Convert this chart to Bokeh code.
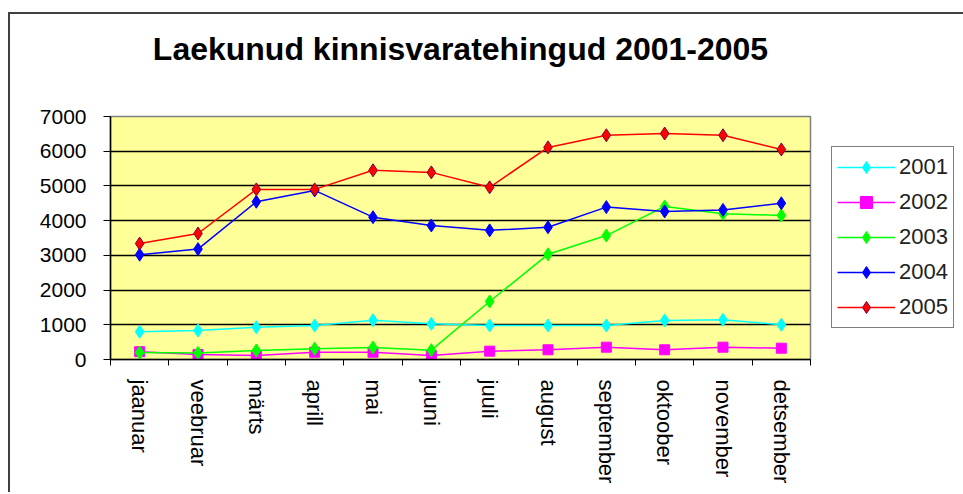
from bokeh.plotting import figure
from bokeh.models import (FactorRange, Range1d, LinearAxis, FixedTicker, Legend,
                          LegendItem)
from bokeh.embed import file_html
from bokeh.resources import INLINE

title_text = "Laekunud kinnisvaratehingud 2001-2005"
months = ["jaanuar", "veebruar", "märts", "aprill", "mai", "juuni", "juuli",
          "august", "september", "oktoober", "november", "detsember"]
years = ["2001", "2002", "2003", "2004", "2005"]
s2001 = [800, 835, 930, 980, 1130, 1030, 980, 980, 980, 1125, 1145, 1000]
s2002 = [225, 145, 115, 210, 210, 115, 240, 280, 355, 280, 355, 325]
s2003 = [200, 190, 260, 310, 345, 270, 1670, 3030, 3570, 4410, 4200, 4150]
s2004 = [3020, 3180, 4545, 4870, 4100, 3860, 3720, 3810, 4390, 4265, 4310, 4500]
s2005 = [3340, 3630, 4900, 4900, 5450, 5390, 4960, 6110, 6460, 6510, 6460, 6050]
y_ticks = [0, 1000, 2000, 3000, 4000, 5000, 6000, 7000]

series = [s2001, s2002, s2003, s2004, s2005]
line_colors = ["#00FFFF", "#FF00FF", "#00FF00", "#0000FF", "#FF0000"]
marker_fill = ["#00FFFF", "#FF00FF", "#00FF00", "#0000FF", "#FF0000"]
marker_line = ["#00FFFF", "#FF00FF", "#00FF00", "#0000FF", "#800040"]
markers = ["diamond", "square", "diamond", "diamond", "diamond"]
sizes = [13, 10, 13, 13, 13]

FONT = "Liberation Sans"

p = figure(frame_width=700, frame_height=243, output_backend="svg", toolbar_location=None,
           x_range=FactorRange(factors=months, range_padding=0),
           y_range=Range1d(0, 7000), x_axis_type=None,
           min_border_left=100, min_border_right=150,
           min_border_top=102, min_border_bottom=133,
           styles={"border-left": "2px solid #404040",
                   "border-top": "2px solid #404040",
                   "margin-top": "12px", "margin-left": "8px"})

p.background_fill_color = "#FFFF99"
p.border_fill_color = "white"
p.outline_line_color = "#808080"
p.outline_line_width = 1.5

# chart title drawn as the label of a tickless axis above the plot area
top_axis = LinearAxis(ticker=FixedTicker(ticks=[]), axis_label=title_text)
top_axis.axis_line_color = None
top_axis.major_tick_line_color = None
top_axis.minor_tick_line_color = None
top_axis.major_tick_out = 0
top_axis.major_tick_in = 0
top_axis.axis_label_standoff = 50
top_axis.axis_label_text_font = FONT
top_axis.axis_label_text_font_size = "32px"
top_axis.axis_label_text_font_style = "bold"
top_axis.axis_label_text_color = "black"
p.add_layout(top_axis, "above")

# y axis
yax = p.yaxis[0]
yax.ticker = FixedTicker(ticks=y_ticks)
yax.axis_line_color = "black"
yax.axis_line_width = 1.5
yax.major_tick_line_color = "black"
yax.major_tick_out = 7
yax.major_tick_in = 0
yax.minor_tick_line_color = None
yax.major_label_text_font = FONT
yax.major_label_text_font_size = "21px"
yax.major_label_text_color = "black"
yax.major_label_standoff = 17

p.ygrid.ticker = FixedTicker(ticks=y_ticks[1:-1])
p.ygrid.grid_line_color = "black"
p.ygrid.grid_line_width = 1.5

# x axis: labels at category centers, tick marks at category boundaries
centers = [i + 0.5 for i in range(len(months))]
bounds = list(range(len(months) + 1))
xax = LinearAxis(ticker=FixedTicker(ticks=centers, minor_ticks=bounds),
                 major_label_overrides={c: m for c, m in zip(centers, months)})
xax.axis_line_color = "black"
xax.axis_line_width = 1.5
xax.major_tick_line_color = None
xax.major_tick_out = 0
xax.major_tick_in = 0
xax.minor_tick_line_color = "black"
xax.minor_tick_out = 6
xax.minor_tick_in = 0
xax.major_label_orientation = "vertical"
xax.major_label_text_font = FONT
xax.major_label_text_font_size = "22px"
xax.major_label_text_color = "black"
xax.major_label_standoff = 14
p.add_layout(xax, "below")

items = []
for yr, vals, lc, mf, ml, mk, sz in zip(years, series, line_colors, marker_fill,
                                          marker_line, markers, sizes):
    rl = p.line(months, vals, line_color=lc, line_width=1.5)
    rs = p.scatter(months, vals, marker=mk, size=sz,
                   fill_color=mf, line_color=ml, line_width=1)
    items.append(LegendItem(label=yr, renderers=[rl, rs]))

legend = Legend(items=items, location=(21, 31))
legend.border_line_color = "black"
legend.border_line_width = 1
legend.background_fill_color = "white"
legend.background_fill_alpha = 1
legend.label_text_font = FONT
legend.label_text_font_size = "22px"
legend.label_text_color = "#222222"
legend.glyph_width = 58
legend.glyph_height = 30
legend.label_height = 30
legend.spacing = 5
legend.padding = 5
legend.margin = 0
legend.label_standoff = 4
p.add_layout(legend, "right")

open("out.html", "w").write(file_html(p, INLINE))
